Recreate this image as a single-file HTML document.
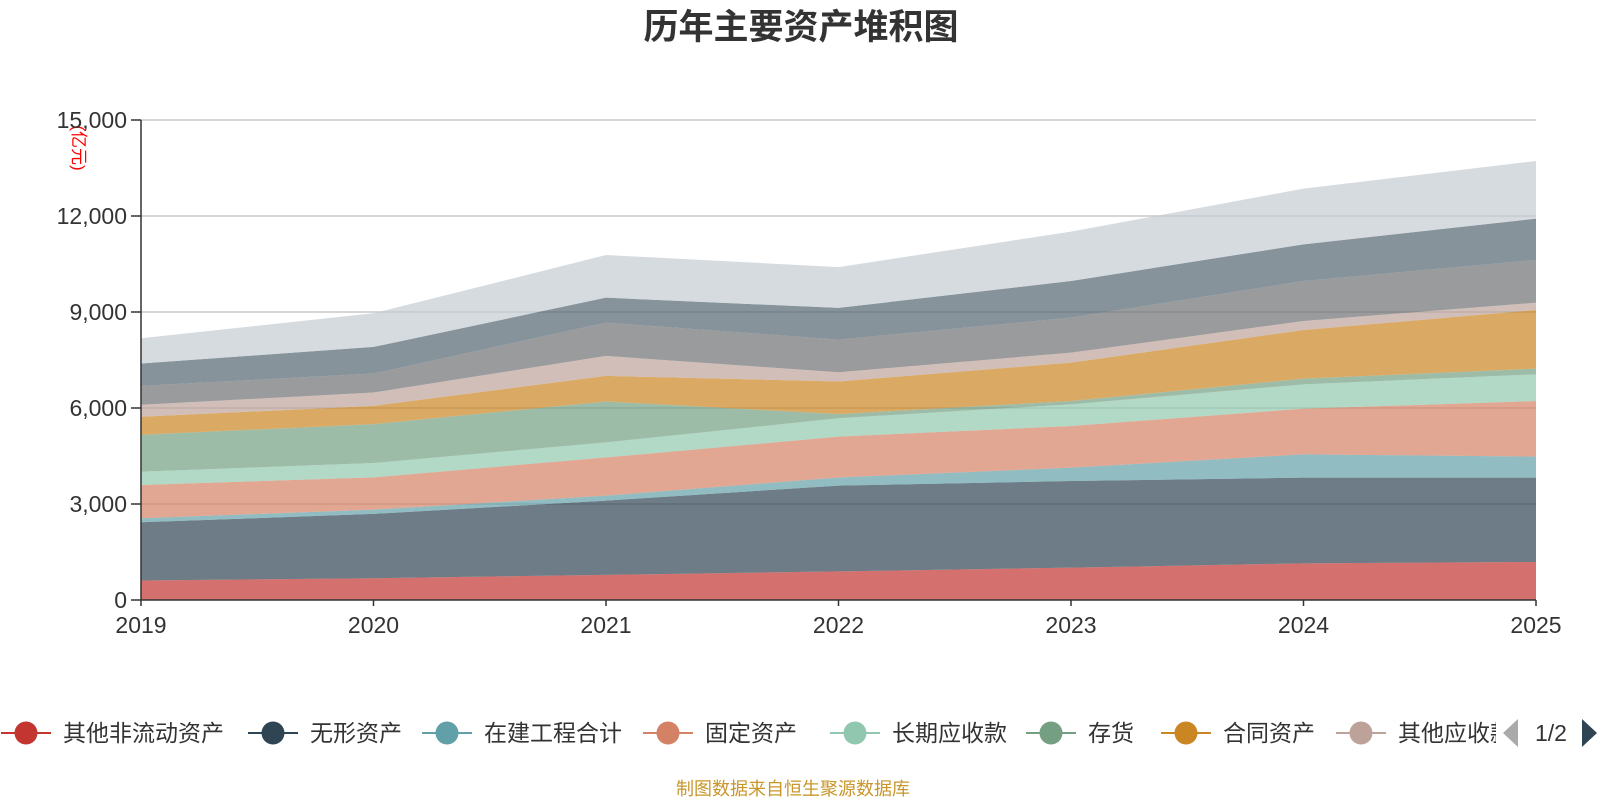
<!DOCTYPE html>
<html><head><meta charset="utf-8"><style>
html,body{margin:0;padding:0;background:#fff;width:1600px;height:800px;overflow:hidden;font-family:"Liberation Sans","Noto Sans CJK SC",sans-serif;}
</style></head><body>
<svg id="chart" width="1600" height="800" xmlns="http://www.w3.org/2000/svg" font-family="Liberation Sans, Noto Sans CJK SC, sans-serif">
<text x="801" y="39" text-anchor="middle" font-size="35" font-weight="bold" fill="#333">历年主要资产堆积图</text>
<text transform="translate(73,148) rotate(90)" text-anchor="middle" font-size="17" fill="#ff0000">(亿元)</text>
<g id="grid"></g><g id="areas"></g><g id="axes"></g><g id="legend"></g>
<text x="793" y="795" text-anchor="middle" font-size="18" fill="#c8962a">制图数据来自恒生聚源数据库</text>
</svg>
<script>
const categories=['2019','2020','2021','2022','2023','2024','2025'];
const seriesNames=['其他非流动资产','无形资产','在建工程合计','固定资产','长期应收款','存货','合同资产','其他应收款','应收账款','货币资金','其他资产'];
const s0=[608,680,785,894,1010,1146,1188];
const s1=[1820,2010,2322,2680,2709,2677,2635];
const s2=[125,135,153,256,416,729,656];
const s3=[1040,1008,1196,1276,1303,1427,1740];
const s4=[417,447,468,574,677,761,833];
const s5=[1154,1217,1280,128,104,177,177];
const s6=[562,571,800,1022,1198,1521,1834];
const s7=[374,416,624,287,312,281,229];
const s8=[592,593,1040,1021,1094,1250,1333];
const s9=[697,832,780,990,1146,1146,1292];
const s10=[791,1051,1332,1276,1541,1739,1802];
const yTicks=[0,3000,6000,9000,12000,15000];
const colors=['#c23531','#2f4554','#61a0a8','#d48265','#91c7ae','#749f83','#ca8622','#bda29a','#6e7074','#546570','#c4ccd3'];
const series=[s0,s1,s2,s3,s4,s5,s6,s7,s8,s9,s10];
const NS='http://www.w3.org/2000/svg';
const X0=141,X1=1536,Y0=600,Y1=120,YMAX=15000;
function xs(i){return X0+(X1-X0)*i/(categories.length-1);}
function ys(v){return Y0-(Y0-Y1)*v/YMAX;}
function mk(tag,attrs,parent){const e=document.createElementNS(NS,tag);for(const k in attrs)e.setAttribute(k,attrs[k]);parent.appendChild(e);return e;}
const grid=document.getElementById('grid'),areas=document.getElementById('areas'),axes=document.getElementById('axes'),legend=document.getElementById('legend');
yTicks.forEach(t=>{
  if(t>0){const g=mk('line',{x1:X0,x2:X1,y1:ys(t),y2:ys(t),stroke:'#c8c8c8','stroke-width':1.5},grid);
  
  }
  const tk=mk('line',{x1:X0-10,x2:X0,y1:ys(t),y2:ys(t),stroke:'#333','stroke-width':1.5},axes);
  
  
  const lb=mk('text',{x:X0-14,y:ys(t)+8,'text-anchor':'end','font-size':23,fill:'#333'},axes);
  lb.textContent=t.toLocaleString('en-US');
  
  
});
let base=categories.map(()=>0);
series.forEach((s,si)=>{
  const top=s.map((v,i)=>base[i]+v);
  let d='M'+categories.map((c,i)=>xs(i)+','+ys(top[i])).join('L');
  for(let i=categories.length-1;i>=0;i--)d+='L'+xs(i)+','+ys(base[i]);
  d+='Z';
  const p=mk('path',{d:d,fill:colors[si],'fill-opacity':0.7},areas);
  
  
  base=top;
});
const ya=mk('line',{x1:X0,x2:X0,y1:Y1,y2:Y0,stroke:'#333','stroke-width':1.5},axes);


const xa=mk('line',{x1:X0,x2:X1,y1:Y0,y2:Y0,stroke:'#333','stroke-width':1.5},axes);


categories.forEach((c,i)=>{
  const tk=mk('line',{x1:xs(i),x2:xs(i),y1:Y0,y2:Y0+6,stroke:'#333','stroke-width':1.5},axes);
  
  
  const lb=mk('text',{x:xs(i),y:Y0+33,'text-anchor':'middle','font-size':23,fill:'#333'},axes);
  lb.textContent=c;
  
  
});
const legX=[26,273,447,668,855,1051,1186,1361];
const LY=733;
const clip=mk('clipPath',{id:'legclip'},legend);
mk('rect',{x:0,y:700,width:1496,height:60},clip);
const lg=mk('g',{'clip-path':'url(#legclip)'},legend);
legX.forEach((x,i)=>{
  const g=mk('g',{},lg);
  
  
  mk('line',{x1:x-25,x2:x+25,y1:LY,y2:LY,stroke:colors[i],'stroke-width':2},g);
  mk('circle',{cx:x,cy:LY,r:11.5,fill:colors[i]},g);
  const t=mk('text',{x:x+37,y:LY+8,'font-size':23,fill:'#333'},g);
  t.textContent=seriesNames[i];
});
const pl=mk('path',{d:'M1518,719L1503,733L1518,747Z',fill:'#aaa'},legend);


const pt=mk('text',{x:1551,y:741,'text-anchor':'middle','font-size':23,fill:'#333'},legend);
pt.textContent='1/2';


const pn=mk('path',{d:'M1582,719L1597,733L1582,747Z',fill:'#2f4554'},legend);


</script>
</body></html>
